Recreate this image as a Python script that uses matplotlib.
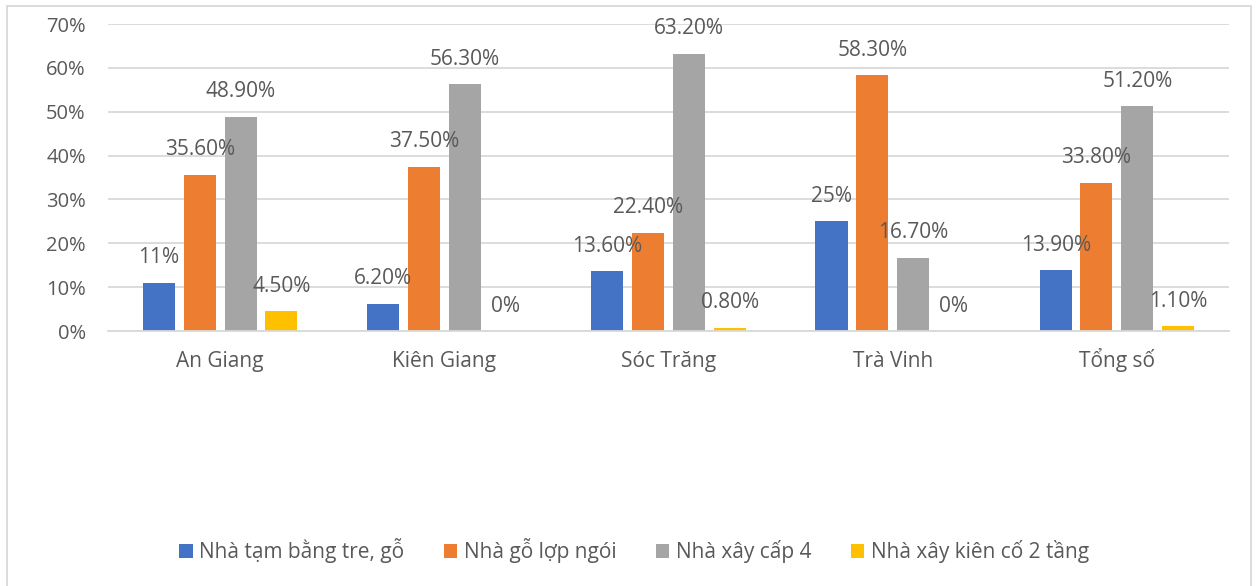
import numpy as np
import matplotlib
matplotlib.use("Agg")
import matplotlib.pyplot as plt
from matplotlib.patches import Rectangle

plt.rcParams['font.family'] = ['Open Sans', 'DejaVu Sans']

provinces = ['An Giang', 'Kiên Giang', 'Sóc Trăng', 'Trà Vinh', 'Tổng số']
series_names = ['Nhà tạm bằng tre, gỗ', 'Nhà gỗ lợp ngói', 'Nhà xây cấp 4', 'Nhà xây kiên cố 2 tầng']
nha_tam = [11.0, 6.2, 13.6, 25.0, 13.9]
nha_go = [35.6, 37.5, 22.4, 58.3, 33.8]
nha_cap4 = [48.9, 56.3, 63.2, 16.7, 51.2]
nha_kien_co = [4.5, 0.0, 0.8, 0.0, 1.1]
labels_tam = ['11%', '6.20%', '13.60%', '25%', '13.90%']
labels_go = ['35.60%', '37.50%', '22.40%', '58.30%', '33.80%']
labels_cap4 = ['48.90%', '56.30%', '63.20%', '16.70%', '51.20%']
labels_kien_co = ['4.50%', '0%', '0.80%', '0%', '1.10%']

colors = ['#4472C4', '#ED7D31', '#A5A5A5', '#FFC000']
txt = '#595959'

all_vals = [nha_tam, nha_go, nha_cap4, nha_kien_co]
all_labels = [labels_tam, labels_go, labels_cap4, labels_kien_co]

fig = plt.figure(figsize=(12.58, 5.86), dpi=100)
ax = fig.add_axes([0.0859, 0.435, 0.891, 0.524])

x = np.arange(len(provinces))
w = 0.143
step = 0.182
for i in range(4):
    pos = x + (i - 1.5) * step
    bars = ax.bar(pos, np.array(all_vals[i]) / 100, width=w, color=colors[i],
                  label=series_names[i], zorder=2)
    for b, lab in zip(bars, all_labels[i]):
        ax.annotate(lab, (b.get_x() + b.get_width() / 2, b.get_height()),
                    xytext=(0, 18), textcoords='offset points',
                    ha='center', va='center', fontsize=15, color=txt, zorder=3)

ax.set_xlim(-0.5, 4.5)
ax.set_ylim(0, 0.7)
ax.set_yticks(np.arange(0, 0.71, 0.1))
ax.set_yticklabels([f'{int(round(v * 100))}%' for v in np.arange(0, 0.71, 0.1)])
ax.set_xticks(x)
ax.set_xticklabels(provinces, va='baseline')
ax.tick_params(axis='y', length=0, pad=16, labelsize=14.5, labelcolor=txt)
ax.tick_params(axis='x', length=0, pad=26, labelsize=15, labelcolor=txt)
ax.grid(axis='y', color='#D9D9D9', linewidth=1.3, zorder=0)
ax.set_axisbelow(True)
for s in ['top', 'right', 'left']:
    ax.spines[s].set_visible(False)
ax.spines['bottom'].set_color('#D9D9D9')
ax.spines['bottom'].set_linewidth(1.3)

leg = fig.legend(loc='center', bbox_to_anchor=(0.504, 0.06), ncol=4, frameon=False,
                 fontsize=15, handlelength=0.65, handleheight=0.65, handletextpad=0.3,
                 columnspacing=1.9, labelcolor=txt)

fig.patches.append(Rectangle((0.0056, -0.01), 0.9888, 0.999, transform=fig.transFigure,
                             fill=False, edgecolor='#D9D9D9', linewidth=1.3))

fig.savefig('out.png', dpi=100)
